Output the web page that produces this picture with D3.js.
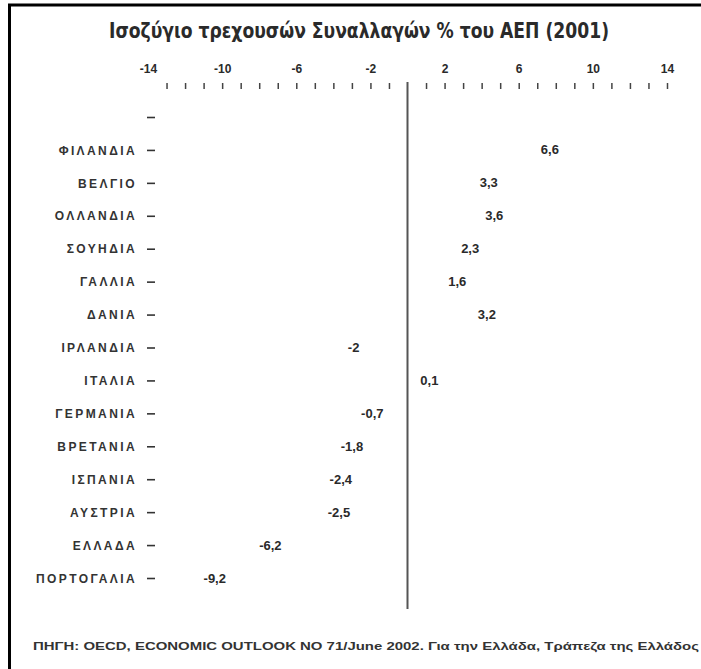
<!DOCTYPE html>
<html>
<head>
<meta charset="utf-8">
<script src="https://cdn.jsdelivr.net/npm/d3@7"></script>
<style>
  html, body { margin: 0; padding: 0; background: #fff; }
  svg { display: block; }
</style>
</head>
<body>
<svg id="chart" width="701" height="669"></svg>
<script>
// ---- data ----
const categories = ["ΦΙΛΑΝΔΙΑ", "ΒΕΛΓΙΟ", "ΟΛΛΑΝΔΙΑ", "ΣΟΥΗΔΙΑ", "ΓΑΛΛΙΑ", "ΔΑΝΙΑ", "ΙΡΛΑΝΔΙΑ",
                    "ΙΤΑΛΙΑ", "ΓΕΡΜΑΝΙΑ", "ΒΡΕΤΑΝΙΑ", "ΙΣΠΑΝΙΑ", "ΑΥΣΤΡΙΑ", "ΕΛΛΑΔΑ", "ΠΟΡΤΟΓΑΛΙΑ"];
const values = [6.6, 3.3, 3.6, 2.3, 1.6, 3.2, -2, 0.1, -0.7, -1.8, -2.4, -2.5, -6.2, -9.2];
const valueLabels = ["6,6", "3,3", "3,6", "2,3", "1,6", "3,2", "-2", "0,1", "-0,7", "-1,8", "-2,4", "-2,5", "-6,2", "-9,2"];
const tickValues = [-14, -10, -6, -2, 2, 6, 10, 14];
const minorTicks = [-13, -12, -11, -10, -9, -8, -7, -6, -5, -4, -3, -2, -1, 1, 2, 3, 4, 5, 6, 7, 8, 9, 10, 11, 12, 13, 14];
const title = "Ισοζύγιο τρεχουσών Συναλλαγών % του ΑΕΠ (2001)";
const source = "ΠΗΓΗ: OECD, ECONOMIC OUTLOOK NO 71/June 2002. Για την Ελλάδα, Τράπεζα της Ελλάδος";

// ---- layout ----
const svg = d3.select("#chart");
const x = d3.scaleLinear().domain([-14, 14]).range([148, 667]);
const y = d3.scalePoint().domain([""].concat(categories)).range([117, 578]);
const ink = "#2a2a2a";

// frame
svg.append("line").attr("x1", 8).attr("x2", 701).attr("y1", 5).attr("y2", 5)
  .attr("stroke", "#000").attr("stroke-width", 3);
svg.append("line").attr("x1", 9.5).attr("x2", 9.5).attr("y1", 4).attr("y2", 669)
  .attr("stroke", "#000").attr("stroke-width", 3);

// title
svg.append("text").attr("x", 359).attr("y", 38).attr("text-anchor", "middle")
  .attr("font-family", "'Liberation Sans Narrow','DejaVu Sans Condensed','Liberation Sans',sans-serif")
  .attr("font-weight", "bold").attr("font-size", 21).attr("fill", ink)
  .attr("textLength", 500).attr("lengthAdjust", "spacingAndGlyphs")
  .text(title);

// top axis labels
const axis = d3.axisTop(x).tickValues(tickValues).tickSize(0).tickPadding(0)
  .tickFormat(d => d);
const ag = svg.append("g").attr("transform", "translate(0,73)").call(axis);
ag.select(".domain").remove();
ag.selectAll("text").attr("font-family", "'Liberation Sans','Arial',sans-serif")
  .attr("font-weight", "bold").attr("font-size", 12).attr("fill", ink);

// minor ticks
const mt = d3.axisTop(x).tickValues(minorTicks).tickSize(6).tickFormat("");
const mg = svg.append("g").attr("transform", "translate(0,89)").call(mt);
mg.select(".domain").remove();
mg.selectAll("line").attr("stroke", "#444").attr("stroke-width", 1.5);

// zero line
svg.append("line").attr("x1", x(0)).attr("x2", x(0)).attr("y1", 82).attr("y2", 609)
  .attr("stroke", "#555").attr("stroke-width", 2);

// category axis
const yAxis = d3.axisLeft(y).tickSize(8).tickPadding(10);
const yg = svg.append("g").attr("transform", "translate(155,0)").call(yAxis);
yg.select(".domain").remove();
yg.selectAll("line").attr("stroke", "#333").attr("stroke-width", 1.6);
yg.selectAll("text").attr("font-family", "'Liberation Sans','Arial',sans-serif")
  .attr("font-weight", "bold").attr("font-size", 12).attr("fill", "#333")
  .attr("letter-spacing", "2.4px").attr("dy", "0.35em");

// value labels
svg.append("g").selectAll("text").data(values).join("text")
  .attr("x", (d) => d >= 0 ? x(d) + 11 : x(d) - 11)
  .attr("y", (d, i) => y(categories[i]))
  .attr("dy", "0.35em")
  .attr("text-anchor", d => d >= 0 ? "start" : "end")
  .attr("font-family", "'Liberation Sans Narrow','Liberation Sans',sans-serif")
  .attr("font-weight", "bold").attr("font-size", 13).attr("fill", ink)
  .text((d, i) => valueLabels[i]);

// source
svg.append("text").attr("x", 33).attr("y", 650)
  .attr("font-family", "'Liberation Sans','Arial',sans-serif")
  .attr("font-weight", "bold").attr("font-size", 10).attr("fill", "#333")
  .attr("textLength", 666).attr("lengthAdjust", "spacingAndGlyphs")
  .text(source);
</script>
</body>
</html>
